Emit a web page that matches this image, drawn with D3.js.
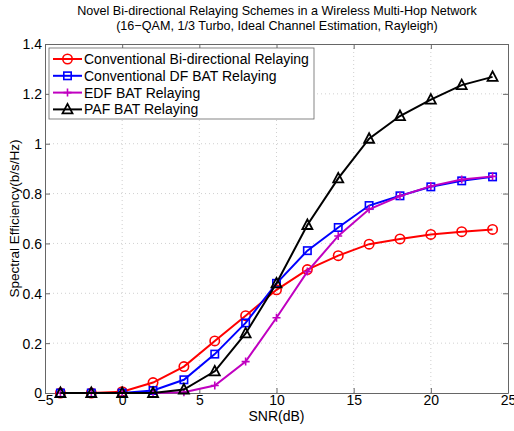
<!DOCTYPE html>
<html><head><meta charset="utf-8">
<script src="https://cdn.jsdelivr.net/npm/d3@7"></script>
<style>body{margin:0;background:#fff}svg{display:block}text{font-family:"Liberation Sans",Arial,sans-serif;fill:#000}</style>
</head><body>
<script>
const snr = [-4,-2,0,2,4,6,8,10,12,14,16,18,20,22,24];
const conventionalBi = [0,0,0.005,0.042,0.106,0.209,0.31,0.414,0.495,0.551,0.597,0.618,0.636,0.647,0.656];
const conventionalDF = [0,0,0,0.01,0.053,0.156,0.281,0.44,0.571,0.664,0.752,0.791,0.827,0.851,0.867];
const edfBAT = [0,0,0,0,0.003,0.03,0.126,0.302,0.487,0.63,0.737,0.79,0.83,0.856,0.869];
const pafBAT = [0,0,0,0,0.014,0.087,0.239,0.44,0.674,0.861,1.02,1.111,1.177,1.235,1.268];
const seriesNames = ["Conventional Bi-directional Relaying","Conventional DF BAT Relaying","EDF BAT Relaying","PAF BAT Relaying"];
const xTicks = [-5,0,5,10,15,20,25];
const yTicks = [0,0.2,0.4,0.6,0.8,1,1.2,1.4];
const titleLines = ["Novel Bi-directional Relaying Schemes in a Wireless Multi-Hop Network","(16\u2212QAM, 1/3 Turbo, Ideal Channel Estimation, Rayleigh)"];

const W=514,H=431, L=45,R=508,T=44,B=393;
const svg=d3.select("body").append("svg").attr("width",W).attr("height",H);
const x=d3.scaleLinear().domain([-5,25]).range([L,R]);
const y=d3.scaleLinear().domain([0,1.4]).range([B,T]);

// grid
const g=svg.append("g");
g.selectAll("line.gx").data(xTicks.slice(1,-1)).enter().append("line")
 .attr("x1",d=>x(d)).attr("x2",d=>x(d)).attr("y1",T).attr("y2",B)
 .attr("stroke","#c4c4c4").attr("stroke-width",0.8).attr("stroke-dasharray","1,3");
g.selectAll("line.gy").data(yTicks.slice(1,-1)).enter().append("line")
 .attr("y1",d=>y(d)).attr("y2",d=>y(d)).attr("x1",L).attr("x2",R)
 .attr("stroke","#c4c4c4").attr("stroke-width",0.8).attr("stroke-dasharray","1,3");

// axes
const fmt=d=>d3.format("~g")(d).replace("-","\u2212");
const ax=svg.append("g").attr("transform",`translate(0,${B})`).call(d3.axisBottom(x).tickValues(xTicks).tickSizeInner(-5).tickSizeOuter(0).tickPadding(2).tickFormat(fmt));
const ax2=svg.append("g").attr("transform",`translate(0,${T})`).call(d3.axisTop(x).tickValues(xTicks).tickSizeInner(-5).tickSizeOuter(0).tickFormat(""));
const ay=svg.append("g").attr("transform",`translate(${L},0)`).call(d3.axisLeft(y).tickValues(yTicks).tickSizeInner(-5).tickSizeOuter(0).tickPadding(3).tickFormat(fmt));
const ay2=svg.append("g").attr("transform",`translate(${R},0)`).call(d3.axisRight(y).tickValues(yTicks).tickSizeInner(-5).tickSizeOuter(0).tickFormat(""));
[ax,ax2,ay,ay2].forEach(a=>{a.selectAll("path").attr("stroke","#666");a.selectAll("line").attr("stroke","#666");a.selectAll("text").attr("font-size",14).attr("font-family","Liberation Sans, Arial, sans-serif").attr("fill","#000");});
ay.selectAll("text").attr("dy","0.35em");

// labels
svg.append("text").attr("x",(L+R)/2).attr("y",421).attr("text-anchor","middle").attr("font-size",14).text("SNR(dB)");
svg.append("text").attr("transform",`translate(19,${(T+B)/2}) rotate(-90)`).attr("text-anchor","middle").attr("font-size",13.5).text("Spectral Efficiency(b/s/Hz)");
svg.selectAll("text.title").data(titleLines).enter().append("text").attr("x",277).attr("y",(d,i)=>15+i*15).attr("text-anchor","middle").attr("font-size",12.6).text(d=>d);

const series=[
 {name:seriesNames[0],vals:conventionalBi,color:"#ff0000",marker:"circle"},
 {name:seriesNames[1],vals:conventionalDF,color:"#0000ff",marker:"square"},
 {name:seriesNames[2],vals:edfBAT,color:"#c000c0",marker:"plus"},
 {name:seriesNames[3],vals:pafBAT,color:"#000000",marker:"triangle"}];

function drawMarker(sel,m,c){
 if(m==="circle") sel.append("circle").attr("r",4.7).attr("fill","none").attr("stroke",c).attr("stroke-width",1.6);
 if(m==="square") sel.append("rect").attr("x",-3.7).attr("y",-3.7).attr("width",7.4).attr("height",7.4).attr("fill","none").attr("stroke",c).attr("stroke-width",1.6);
 if(m==="plus") sel.append("path").attr("d","M-4,0H4M0,-4V4").attr("stroke",c).attr("stroke-width",1.6);
 if(m==="triangle") sel.append("path").attr("d","M0,-5.5L5,4L-5,4Z").attr("fill","none").attr("stroke",c).attr("stroke-width",1.8);
}
const line=d3.line().x((d,i)=>x(snr[i])).y(d=>y(d));
series.forEach(s=>{
 svg.append("path").attr("d",line(s.vals)).attr("fill","none").attr("stroke",s.color).attr("stroke-width",2);
 s.vals.forEach((v,i)=>{const gg=svg.append("g").attr("transform",`translate(${x(snr[i])},${y(v)})`);drawMarker(gg,s.marker,s.color);});
});

// legend
const lg=svg.append("g");
lg.append("rect").attr("x",49).attr("y",48).attr("width",265).attr("height",71).attr("fill","#fff").attr("stroke","#666").attr("stroke-width",0.8);
series.forEach((s,i)=>{
 const yy=59+i*16.8;
 lg.append("line").attr("x1",53).attr("x2",82).attr("y1",yy).attr("y2",yy).attr("stroke",s.color).attr("stroke-width",2);
 const gg=lg.append("g").attr("transform",`translate(67.5,${yy})`);drawMarker(gg,s.marker,s.color);
 lg.append("text").attr("x",84).attr("y",yy).attr("dy","0.35em").attr("font-size",14).text(s.name);
});
</script>
</body></html>
